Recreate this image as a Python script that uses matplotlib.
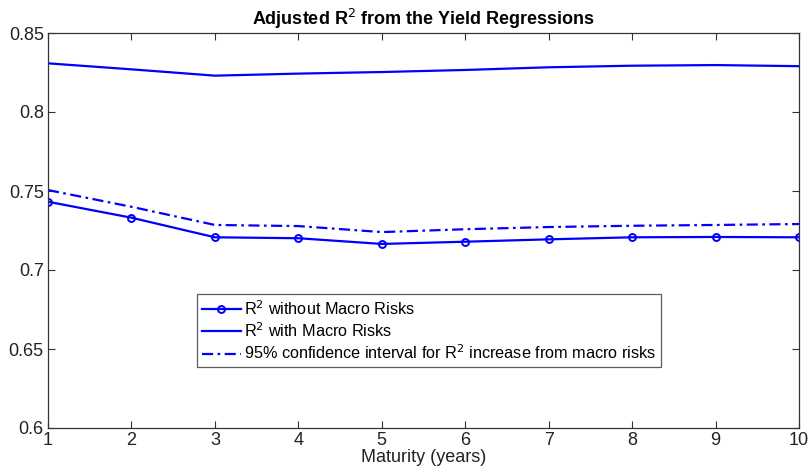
import matplotlib
matplotlib.use("Agg")
import matplotlib.pyplot as plt

maturity = [1, 2, 3, 4, 5, 6, 7, 8, 9, 10]
r2_without = [0.7432, 0.7331, 0.7207, 0.7201, 0.7165, 0.7179, 0.7194, 0.7207, 0.7209, 0.7207]
r2_with = [0.8308, 0.8270, 0.8230, 0.8243, 0.8253, 0.8266, 0.8283, 0.8293, 0.8297, 0.8290]
ci_upper = [0.7506, 0.7400, 0.7285, 0.7278, 0.7240, 0.7258, 0.7272, 0.7280, 0.7285, 0.7291]
yticks = [0.6, 0.65, 0.7, 0.75, 0.8, 0.85]

plt.rcParams['font.family'] = ['Liberation Sans', 'DejaVu Sans']

fig = plt.figure(figsize=(8.1, 4.72), dpi=100)
ax = fig.add_axes([48/810, 1 - 428/472, (799-48)/810, (428-33)/472])

blue = '#0000ff'
ax.plot(maturity, r2_without, color=blue, lw=1.6, marker='o', ms=5,
        mfc='none', mec=blue, mew=1.4, label=r'R$^2$ without Macro Risks')
ax.plot(maturity, r2_with, color=blue, lw=1.6, label=r'R$^2$ with Macro Risks')
ax.plot(maturity, ci_upper, color=blue, lw=1.6, ls=(0, (5, 2, 1.2, 2)),
        label=r'95% confidence interval for R$^2$ increase from macro risks')

ax.set_xlim(1, 10)
ax.set_ylim(0.6, 0.85)
ax.set_xticks(maturity)
ax.set_yticks(yticks)
ax.set_yticklabels(['0.6', '0.65', '0.7', '0.75', '0.8', '0.85'])
ax.tick_params(direction='in', top=True, right=True, labelsize=13, length=5,
               width=0.8, color='#333333', labelcolor='#222222', pad=3)
for s in ax.spines.values():
    s.set_linewidth(0.9)
    s.set_color('#333333')

ax.set_xlabel('Maturity (years)', fontsize=13, labelpad=0, color='#222222')
ax.set_title(r'Adjusted R$^2$ from the Yield Regressions', fontsize=13,
             fontweight='bold', pad=6)

leg = ax.legend(loc='lower left', bbox_to_anchor=(0.198, 0.154), fontsize=11.7,
                frameon=True, fancybox=False, edgecolor='#333333',
                handlelength=2.4, handletextpad=0.2, borderpad=0.3,
                labelspacing=0.22, borderaxespad=0)
leg.get_frame().set_linewidth(0.9)

fig.savefig('out.png', dpi=100)
